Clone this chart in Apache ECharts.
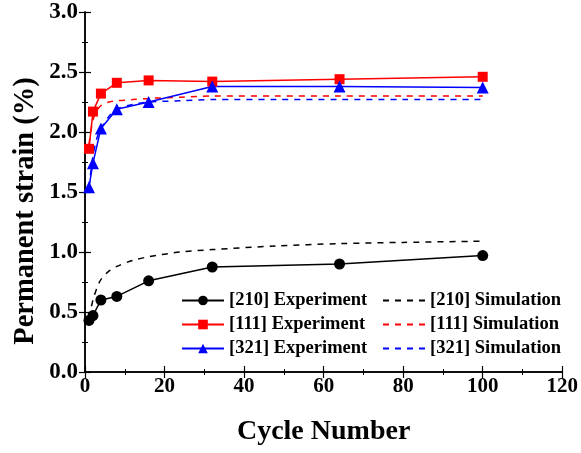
<!DOCTYPE html>
<html>
<head>
<meta charset="utf-8">
<script src="https://cdn.jsdelivr.net/npm/echarts@6/dist/echarts.min.js"></script>
<style>
html,body{margin:0;padding:0;background:#fff;}
#chart{width:581px;height:453px;}
</style>
</head>
<body>
<div id="chart"></div>
<script>
// 实验数据 (cycle, strain %)
var expCycles = [1, 2, 4, 8, 16, 32, 64, 100];
var exp210 = [0.43, 0.47, 0.60, 0.63, 0.76, 0.875, 0.90, 0.97];
var exp111 = [1.86, 2.17, 2.32, 2.41, 2.43, 2.42, 2.44, 2.46];
var exp321 = [1.54, 1.74, 2.03, 2.19, 2.25, 2.38, 2.38, 2.37];

// 模拟数据
var simCycles = [1, 2, 3, 4, 6, 8, 12, 16, 24, 32, 48, 64, 80, 100];
var sim210 = [0.45, 0.60, 0.70, 0.77, 0.84, 0.88, 0.93, 0.96, 1.00, 1.02, 1.05, 1.07, 1.08, 1.09];
var sim111 = [1.90, 2.10, 2.18, 2.22, 2.25, 2.26, 2.27, 2.28, 2.29, 2.30, 2.30, 2.30, 2.30, 2.30];
var sim321 = [1.54, 1.80, 1.95, 2.03, 2.13, 2.19, 2.23, 2.25, 2.26, 2.27, 2.27, 2.27, 2.27, 2.27];

var xTicks = [0, 20, 40, 60, 80, 100, 120];
var yTicks = [0, 0.5, 1.0, 1.5, 2.0, 2.5, 3.0];

var font = 'Liberation Serif';

function pairs(xs, ys){
	var out = [];
	for (var i = 0; i < xs.length; i++) {
		out.push([xs[i], ys[i]]);
	}
	return out;
}

function expSeries(name, ys, color, symbol, size){
	return {
		name: name,
		type: 'line',
		data: pairs(expCycles, ys),
		symbol: symbol,
		symbolSize: size,
		showSymbol: true,
		z: 5,
		lineStyle: {color: color, width: 1.5},
		itemStyle: {color: color}
	};
}

function simSeries(name, ys, color){
	return {
		name: name,
		type: 'line',
		data: pairs(simCycles, ys),
		smooth: 0.3,
		symbol: 'none',
		z: 3,
		lineStyle: {color: color, width: 1.5, type: [6, 6]},
		itemStyle: {color: color}
	};
}

var axisCommon = {
	axisLine: {show: true, lineStyle: {color: '#000', width: 1.5}},
	axisTick: {show: true, inside: true, length: 6, lineStyle: {color: '#000', width: 1.2}},
	minorTick: {show: true, splitNumber: 2, length: 3, lineStyle: {color: '#000', width: 1}},
	splitLine: {show: false}
};

function xAxis(pos, showLabel){
	return Object.assign({
		type: 'value', position: pos, min: xTicks[0], max: xTicks[xTicks.length - 1], interval: 20,
		axisLabel: {show: showLabel, color: '#000', fontFamily: font, fontWeight: 'bold', fontSize: 21, margin: 4},
		name: showLabel ? 'Cycle Number' : '', nameLocation: 'middle', nameGap: 46,
		nameTextStyle: {color: '#000', fontFamily: font, fontWeight: 'bold', fontSize: 28}
	}, axisCommon);
}

function yAxis(pos, showLabel){
	return Object.assign({
		type: 'value', position: pos, min: yTicks[0], max: yTicks[yTicks.length - 1], interval: 0.5,
		axisLabel: {show: showLabel, color: '#000', fontFamily: font, fontWeight: 'bold', fontSize: 23, margin: 7,
			formatter: function(v){ return v.toFixed(1); }}
	}, axisCommon);
}

var legendText = {color: '#000', fontFamily: font, fontWeight: 'bold', fontSize: 18.5};

function simLegend(names){
	return names.map(function(n){ return {name: n, itemStyle: {opacity: 0}}; });
}

var option = {
	backgroundColor: '#fff',
	animation: false,
	grid: {left: 85, right: 8, top: 12, bottom: 81},
	xAxis: [xAxis('bottom', true), xAxis('top', false)],
	yAxis: [yAxis('left', true), yAxis('right', false)],
	graphic: [{
		type: 'text', x: 26, y: 211, rotation: Math.PI / 2,
		style: {text: 'Permanent strain (%)', fill: '#000', font: 'bold 28.5px "Liberation Serif"',
			textAlign: 'center', textVerticalAlign: 'middle'}
	}],
	legend: [
		{
			data: ['[210] Experiment', '[111] Experiment', '[321] Experiment'],
			orient: 'vertical', left: 176, top: 286, itemGap: 5,
			itemWidth: 42, itemHeight: 12, textStyle: legendText
		},
		{
			data: simLegend(['[210] Simulation', '[111] Simulation', '[321] Simulation']),
			orient: 'vertical', left: 377, top: 286, itemGap: 5,
			itemWidth: 42, itemHeight: 12, textStyle: legendText
		}
	],
	series: [
		expSeries('[210] Experiment', exp210, '#000', 'circle', 11),
		expSeries('[111] Experiment', exp111, '#ff0000', 'rect', 10),
		expSeries('[321] Experiment', exp321, '#0000ff', 'triangle', 12),
		simSeries('[210] Simulation', sim210, '#000'),
		simSeries('[111] Simulation', sim111, '#ff0000'),
		simSeries('[321] Simulation', sim321, '#0000ff')
	]
};

var chart = echarts.init(document.getElementById('chart'));
chart.setOption(option);
</script>
</body>
</html>
